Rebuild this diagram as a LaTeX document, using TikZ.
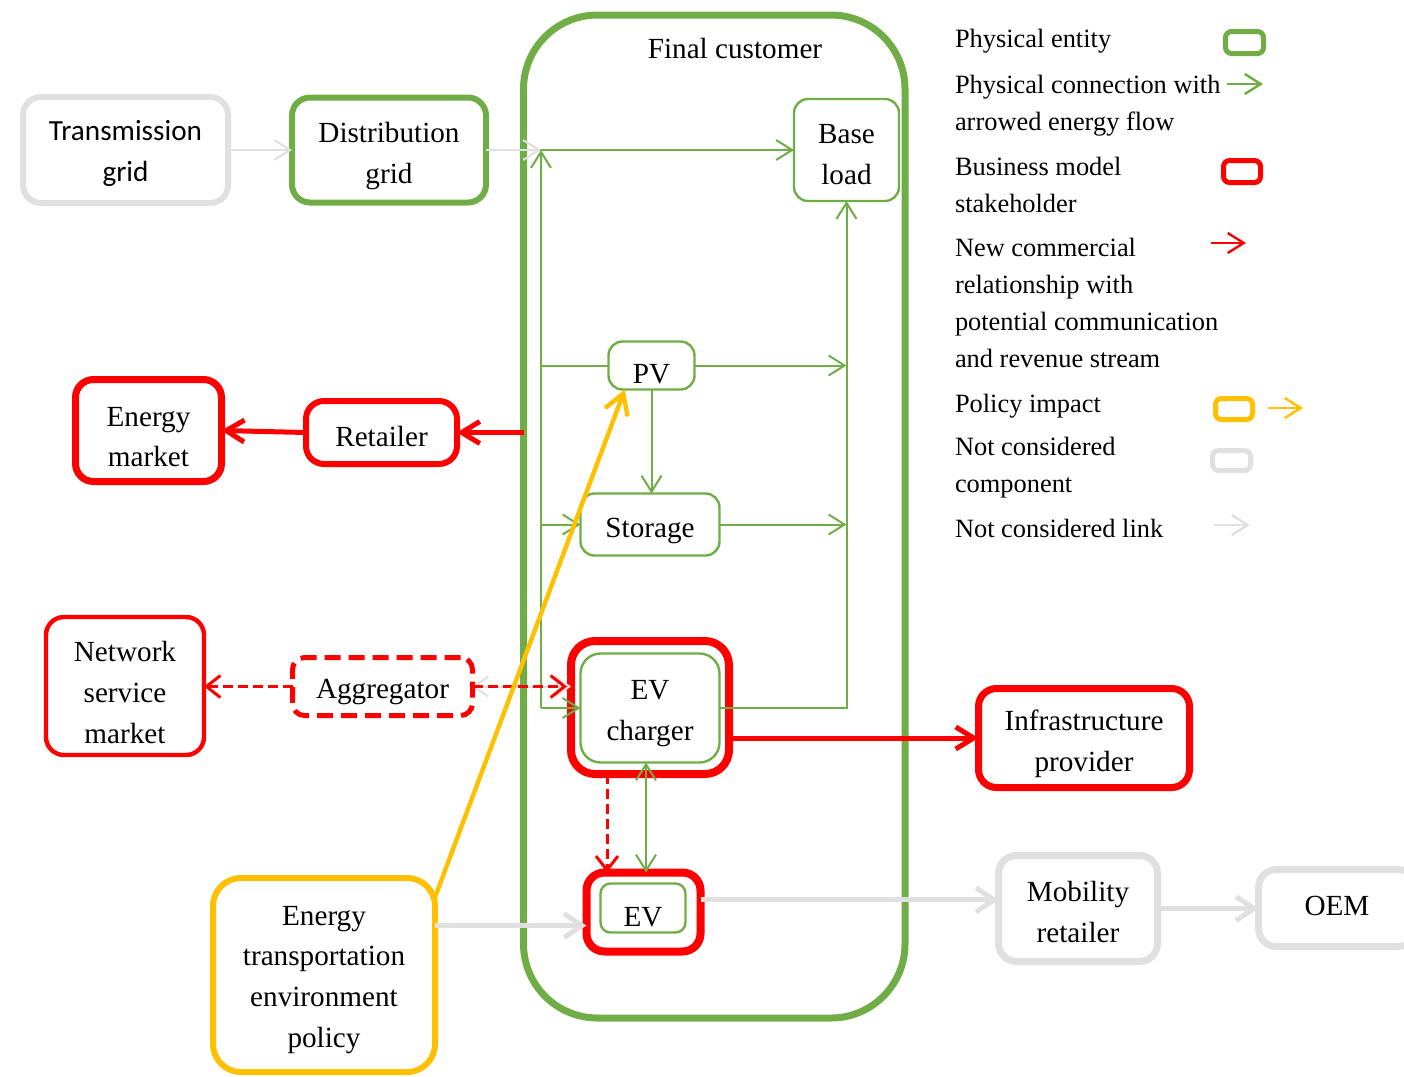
\documentclass[tikz,border=0pt]{standalone}
\usepackage{fontspec}
\setmainfont{Liberation Serif}
\newfontfamily\calib{Carlito}
\usetikzlibrary{arrows.meta}
\definecolor{cgreen}{HTML}{70AD47}
\definecolor{cred}{HTML}{FF0000}
\definecolor{cyel}{HTML}{FFC000}
\definecolor{cgray}{HTML}{E0E0E0}
\newcommand\boxtxt[2]{\raisebox{-#1}[\height][\depth]{\begin{tabular}{@{}c@{}}#2\end{tabular}}}
\begin{document}
\begin{tikzpicture}[x=0.5pt,y=-0.5pt,
  every node/.style={inner sep=0pt, outer sep=0pt, align=center, font=\fontsize{14.6}{20.3}\selectfont},
  legtext/.style={anchor=north west, align=left, font=\fontsize{13.2}{18.5}\selectfont},
  thickg/.style={draw=cgreen, line width=3pt, rounded corners=9pt},
  thing/.style={draw=cgreen, line width=1.2pt, rounded corners=7pt},
  redb/.style={draw=cred, line width=3pt, rounded corners=9pt},
  grayb/.style={draw=cgray, line width=3pt, rounded corners=9pt},
  yelb/.style={draw=cyel, line width=3pt, rounded corners=14pt},
  gline/.style={draw=cgreen, line width=1pt},
  garr/.style={draw=cgreen, line width=1pt, -{Straight Barb[length=8pt,width=10pt]}},
  gdarr/.style={draw=cgreen, line width=1pt, {Straight Barb[length=8pt,width=10pt]}-{Straight Barb[length=8pt,width=10pt]}},
  rarr/.style={draw=cred, line width=2.5pt, -{Straight Barb[length=9pt,width=11pt]}},
  rdash/.style={draw=cred, line width=1.5pt, dash pattern=on 5pt off 2.5pt, -{Straight Barb[length=7pt,width=11pt]}},
  grarr/.style={draw=cgray, line width=2.5pt, -{Straight Barb[length=9pt,width=12pt]}},
  grthin/.style={draw=cgray, line width=1pt, -{Straight Barb[length=8pt,width=10pt]}},
  grdthin/.style={draw=cgray, line width=1pt, {Straight Barb[length=7pt,width=10pt]}-{Straight Barb[length=7pt,width=10pt]}},
  yarr/.style={draw=cyel, line width=2.2pt, -{Straight Barb[length=10pt,width=12pt]}},
]
\useasboundingbox (0,0) rectangle (1404,1077);
\clip (0,0) rectangle (1404,1077);

% Final customer container
\node[draw=cgreen, line width=3.5pt, rounded corners=37pt, minimum width=190.75pt, minimum height=501.5pt] (fc) at (714.25,516.5) {};
\node (fclabel) at (735,49) {Final customer};

% boxes
\node[grayb, minimum width=102.5pt, minimum height=53pt, font=\calib\fontsize{14.6}{20.3}\selectfont] (trans) at (125.5,150) {\boxtxt{1.3pt}{Transmission\\grid}};
\node[thickg, minimum width=97pt, minimum height=52.5pt] (dist) at (389,150) {\boxtxt{2.5pt}{Distribution\\grid}};
\node[thing, minimum width=52.5pt, minimum height=51pt] (base) at (846.5,150) {\boxtxt{2.8pt}{Base\\load}};
\node[thing, minimum width=43pt, minimum height=24pt] (pv) at (651.5,365.5) {\boxtxt{4.8pt}{PV}};
\node[thing, minimum width=69.5pt, minimum height=31pt] (storage) at (650,524.5) {\boxtxt{2.3pt}{Storage}};
\node[redb, line width=4pt, rounded corners=12pt, minimum width=79pt, minimum height=66.5pt] (evcout) at (650,707.5) {};
\node[thing, rounded corners=10pt, minimum width=69.5pt, minimum height=54.5pt] (evcin) at (650,708) {\boxtxt{1.8pt}{EV\\charger}};
\node[redb, line width=4pt, rounded corners=9pt, minimum width=57pt, minimum height=39.5pt] (evout) at (643.5,912) {};
\node[thing, rounded corners=5pt, minimum width=42.5pt, minimum height=24.5pt] (evin) at (643,908) {\boxtxt{5.1pt}{EV}};
\node[redb, line width=3.5pt, minimum width=105.5pt, minimum height=49.5pt] (infra) at (1084,738) {\boxtxt{2.5pt}{Infrastructure\\provider}};
\node[grayb, line width=3.5pt, minimum width=79.5pt, minimum height=53pt] (mob) at (1078,908.5) {\boxtxt{2.7pt}{Mobility\\retailer}};
\node[grayb, line width=3.5pt, minimum width=78.5pt, minimum height=38.5pt] (oem) at (1337,908) {\boxtxt{-0.3pt}{OEM}};
\node[yelb, minimum width=111pt, minimum height=97pt] (policy) at (324,975) {\boxtxt{1.5pt}{Energy\\transportation\\environment\\policy}};
\node[redb, minimum width=75.5pt, minimum height=31.5pt] (retailer) at (381.5,432.5) {\boxtxt{2.7pt}{Retailer}};
\node[redb, line width=3.5pt, minimum width=73pt, minimum height=51pt] (emarket) at (148.5,430.5) {\boxtxt{4pt}{Energy\\market}};
\node[redb, line width=2.2pt, minimum width=79pt, minimum height=69pt] (nsm) at (125,686) {\boxtxt{4.2pt}{Network\\service\\market}};
\node[redb, line width=2.5pt, dash pattern=on 8pt off 4pt, rounded corners=6pt, minimum width=90pt, minimum height=29pt] (agg) at (382.5,686.5) {\boxtxt{2.1pt}{Aggregator}};

% junctions
\coordinate (j1) at (541,150);
\coordinate (j5) at (541,708);

% green physical connections
\draw[gline] (dist.east) -- (j1);
\draw[grthin] (dist.east) -- (j1);
\draw[garr] (j1) -- (base.west);
\draw[garr] (j5) -- (j1);
\draw[gline] (pv.west) -- (pv.west -| j1);
\draw[garr] (storage.west -| j1) -- (storage.west);
\draw[garr] (j5) -- (evcin.west);
\draw[garr] (pv.east) -- (pv.east -| base.south);
\draw[garr] (storage.east) -- (storage.east -| base.south);
\draw[garr] (evcin.east) -- (evcin.east -| base.south) -- (base.south);
\draw[garr] (pv.south) -- (pv.south |- storage.north);
\draw[gdarr] ([xshift=-2pt]evcin.south) -- ([xshift=-2pt]evcin.south |- evout.north);

% red commercial relationships
\draw[rarr] (fc.west |- retailer.east) -- (retailer.east);
\draw[rarr] (retailer.west) -- (emarket.east);
\draw[rarr] (evcout.east |- infra.west) -- (infra.west);
\draw[rdash] (agg.west) -- (agg.west -| nsm.east);
\draw[grdthin] (agg.east) -- (agg.east -| evcout.west);
\draw[rdash] (agg.east) -- ([xshift=-2pt]agg.east -| evcout.west);
\draw[rdash] ([xshift=-21.5pt]evcout.south) -- ([xshift=-21.5pt]evcout.south |- evout.north);

% not considered links
\draw[grthin] (trans.east) -- (dist.west);
\draw[grarr] (policy.24) -- (policy.24 -| evout.west);
\draw[grarr] (evout.12) -- (evout.12 -| mob.west);
\draw[grarr] (mob.east) -- (mob.east -| oem.west);

% policy impact
\draw[yarr] (policy.35) -- (pv.222);

% legend
\node[legtext] (t1) at (955,29) {Physical entity};
\node[legtext] (t2) at (955,75) {Physical connection with\\arrowed energy flow};
\node[legtext] (t3) at (955,157) {Business model\\stakeholder};
\node[legtext] (t4) at (955,238) {New commercial\\relationship with\\potential communication\\and revenue stream};
\node[legtext] (t5) at (955,394) {Policy impact};
\node[legtext] (t6) at (955,437) {Not considered\\component};
\node[legtext] (t7) at (955,519) {Not considered link};

\node[draw=cgreen, line width=2.5pt, rounded corners=3pt, minimum width=19pt, minimum height=11pt] (lg1) at (1244.5,42.5) {};
\coordinate (la1s) at (1227,84); \coordinate (la1e) at (1263,84);
\draw[draw=cgreen, line width=1.2pt, -{Straight Barb[length=8pt,width=10pt]}] (la1s) -- (la1e);
\node[draw=cred, line width=2.5pt, rounded corners=3pt, minimum width=18.5pt, minimum height=11pt] (lg2) at (1242,171.5) {};
\coordinate (la2s) at (1211,243); \coordinate (la2e) at (1246,243);
\draw[draw=cred, line width=1.2pt, -{Straight Barb[length=8pt,width=10pt]}] (la2s) -- (la2e);
\node[draw=cyel, line width=2.5pt, rounded corners=3pt, minimum width=18.5pt, minimum height=10.5pt] (lg3) at (1234,409) {};
\coordinate (la3s) at (1268,408); \coordinate (la3e) at (1303,408);
\draw[draw=cyel, line width=1.2pt, -{Straight Barb[length=8pt,width=10pt]}] (la3s) -- (la3e);
\node[draw=cgray, line width=2.5pt, rounded corners=3pt, minimum width=19pt, minimum height=10pt] (lg4) at (1231.5,460.5) {};
\coordinate (la4s) at (1214,525); \coordinate (la4e) at (1250,525);
\draw[draw=cgray, line width=1.2pt, -{Straight Barb[length=8pt,width=10pt]}] (la4s) -- (la4e);
\end{tikzpicture}
\end{document}
